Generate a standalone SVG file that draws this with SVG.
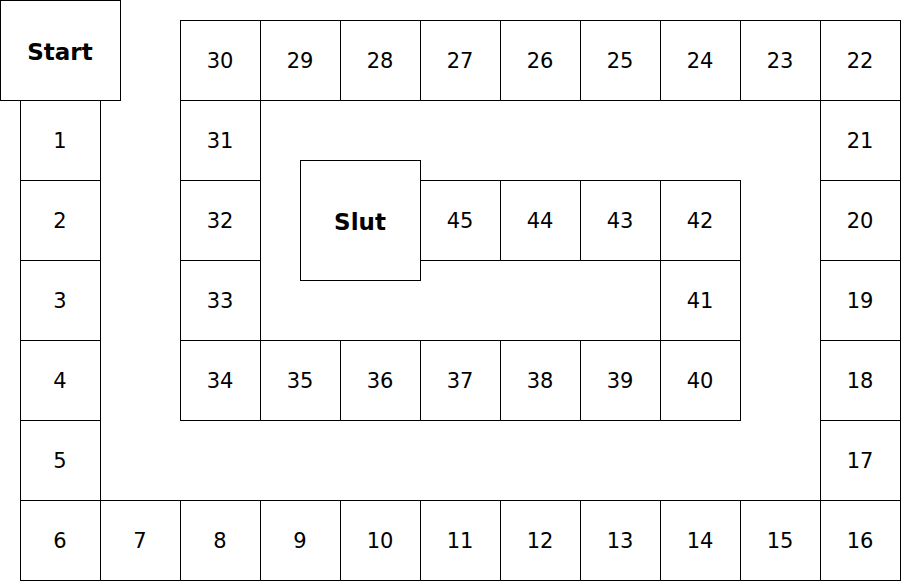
<svg xmlns="http://www.w3.org/2000/svg" width="901" height="581" viewBox="0 0 901 581">
<style>
rect{fill:#fff;stroke:#000;stroke-width:1}
text{font-family:"DejaVu Sans","Liberation Sans",sans-serif;font-size:21px;text-anchor:middle;dominant-baseline:central;fill:#000}
.b{font-weight:bold;font-size:23px}
</style>
<rect width="901" height="581" style="stroke:none"/>
<g id="start"><rect x="0.5" y="0.5" width="120" height="100"/><text class="b" x="60" y="52">Start</text></g>
<g id="slut"><rect x="300.5" y="160.5" width="120" height="120"/><text class="b" x="360" y="222">Slut</text></g>
<g id="s1"><rect x="20.5" y="100.5" width="80" height="80"/><text x="60" y="141">1</text></g>
<g id="s2"><rect x="20.5" y="180.5" width="80" height="80"/><text x="60" y="221">2</text></g>
<g id="s3"><rect x="20.5" y="260.5" width="80" height="80"/><text x="60" y="301">3</text></g>
<g id="s4"><rect x="20.5" y="340.5" width="80" height="80"/><text x="60" y="381">4</text></g>
<g id="s5"><rect x="20.5" y="420.5" width="80" height="80"/><text x="60" y="461">5</text></g>
<g id="s6"><rect x="20.5" y="500.5" width="80" height="80"/><text x="60" y="541">6</text></g>
<g id="s7"><rect x="100.5" y="500.5" width="80" height="80"/><text x="140" y="541">7</text></g>
<g id="s8"><rect x="180.5" y="500.5" width="80" height="80"/><text x="220" y="541">8</text></g>
<g id="s9"><rect x="260.5" y="500.5" width="80" height="80"/><text x="300" y="541">9</text></g>
<g id="s10"><rect x="340.5" y="500.5" width="80" height="80"/><text x="380" y="541">10</text></g>
<g id="s11"><rect x="420.5" y="500.5" width="80" height="80"/><text x="460" y="541">11</text></g>
<g id="s12"><rect x="500.5" y="500.5" width="80" height="80"/><text x="540" y="541">12</text></g>
<g id="s13"><rect x="580.5" y="500.5" width="80" height="80"/><text x="620" y="541">13</text></g>
<g id="s14"><rect x="660.5" y="500.5" width="80" height="80"/><text x="700" y="541">14</text></g>
<g id="s15"><rect x="740.5" y="500.5" width="80" height="80"/><text x="780" y="541">15</text></g>
<g id="s16"><rect x="820.5" y="500.5" width="80" height="80"/><text x="860" y="541">16</text></g>
<g id="s17"><rect x="820.5" y="420.5" width="80" height="80"/><text x="860" y="461">17</text></g>
<g id="s18"><rect x="820.5" y="340.5" width="80" height="80"/><text x="860" y="381">18</text></g>
<g id="s19"><rect x="820.5" y="260.5" width="80" height="80"/><text x="860" y="301">19</text></g>
<g id="s20"><rect x="820.5" y="180.5" width="80" height="80"/><text x="860" y="221">20</text></g>
<g id="s21"><rect x="820.5" y="100.5" width="80" height="80"/><text x="860" y="141">21</text></g>
<g id="s22"><rect x="820.5" y="20.5" width="80" height="80"/><text x="860" y="61">22</text></g>
<g id="s23"><rect x="740.5" y="20.5" width="80" height="80"/><text x="780" y="61">23</text></g>
<g id="s24"><rect x="660.5" y="20.5" width="80" height="80"/><text x="700" y="61">24</text></g>
<g id="s25"><rect x="580.5" y="20.5" width="80" height="80"/><text x="620" y="61">25</text></g>
<g id="s26"><rect x="500.5" y="20.5" width="80" height="80"/><text x="540" y="61">26</text></g>
<g id="s27"><rect x="420.5" y="20.5" width="80" height="80"/><text x="460" y="61">27</text></g>
<g id="s28"><rect x="340.5" y="20.5" width="80" height="80"/><text x="380" y="61">28</text></g>
<g id="s29"><rect x="260.5" y="20.5" width="80" height="80"/><text x="300" y="61">29</text></g>
<g id="s30"><rect x="180.5" y="20.5" width="80" height="80"/><text x="220" y="61">30</text></g>
<g id="s31"><rect x="180.5" y="100.5" width="80" height="80"/><text x="220" y="141">31</text></g>
<g id="s32"><rect x="180.5" y="180.5" width="80" height="80"/><text x="220" y="221">32</text></g>
<g id="s33"><rect x="180.5" y="260.5" width="80" height="80"/><text x="220" y="301">33</text></g>
<g id="s34"><rect x="180.5" y="340.5" width="80" height="80"/><text x="220" y="381">34</text></g>
<g id="s35"><rect x="260.5" y="340.5" width="80" height="80"/><text x="300" y="381">35</text></g>
<g id="s36"><rect x="340.5" y="340.5" width="80" height="80"/><text x="380" y="381">36</text></g>
<g id="s37"><rect x="420.5" y="340.5" width="80" height="80"/><text x="460" y="381">37</text></g>
<g id="s38"><rect x="500.5" y="340.5" width="80" height="80"/><text x="540" y="381">38</text></g>
<g id="s39"><rect x="580.5" y="340.5" width="80" height="80"/><text x="620" y="381">39</text></g>
<g id="s40"><rect x="660.5" y="340.5" width="80" height="80"/><text x="700" y="381">40</text></g>
<g id="s41"><rect x="660.5" y="260.5" width="80" height="80"/><text x="700" y="301">41</text></g>
<g id="s42"><rect x="660.5" y="180.5" width="80" height="80"/><text x="700" y="221">42</text></g>
<g id="s43"><rect x="580.5" y="180.5" width="80" height="80"/><text x="620" y="221">43</text></g>
<g id="s44"><rect x="500.5" y="180.5" width="80" height="80"/><text x="540" y="221">44</text></g>
<g id="s45"><rect x="420.5" y="180.5" width="80" height="80"/><text x="460" y="221">45</text></g>
<g id="connectors"></g>
</svg>
